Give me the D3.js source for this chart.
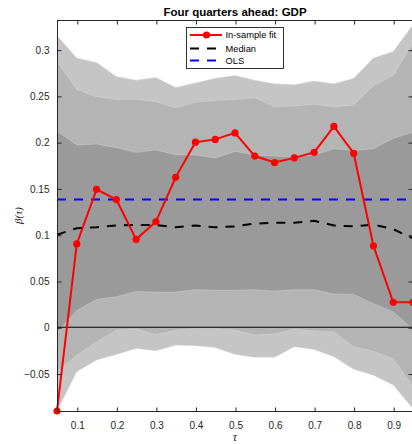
<!DOCTYPE html>
<html>
<head>
<meta charset="utf-8">
<script src="https://cdn.jsdelivr.net/npm/d3@7"></script>
<style>
  body { margin: 0; background: #fff; }
  svg { display: block; font-family: "Liberation Sans", Arial, Helvetica, sans-serif; }
</style>
</head>
<body>
<div id="chart"></div>
<script>
// quantile levels
const taus = [0.05, 0.1, 0.15, 0.2, 0.25, 0.3, 0.35, 0.4, 0.45, 0.5,
              0.55, 0.6, 0.65, 0.7, 0.75, 0.8, 0.85, 0.9, 0.95];

// in-sample fit
const fit = [-0.0905, 0.090, 0.149, 0.138, 0.095, 0.114, 0.162, 0.200, 0.203, 0.210,
             0.185, 0.178, 0.183, 0.189, 0.217, 0.188, 0.088, 0.027, 0.027];

// median of simulated distribution
const median = [0.100, 0.107, 0.108, 0.110, 0.1105, 0.1105, 0.108, 0.110, 0.108, 0.109,
                0.112, 0.113, 0.113, 0.115, 0.110, 0.109, 0.111, 0.106, 0.096];

const ols = 0.138;

// bands: inner, middle, outer (lower / upper)
const innerLo = [-0.005, 0.018, 0.030, 0.033, 0.0385, 0.038, 0.038, 0.0405, 0.040, 0.040,
                 0.0405, 0.039, 0.0405, 0.0405, 0.036, 0.0355, 0.0255, 0.0165, -0.002];
const innerHi = [0.212, 0.197, 0.198, 0.194, 0.189, 0.1915, 0.1865, 0.186, 0.183, 0.190,
                 0.186, 0.185, 0.184, 0.186, 0.193, 0.191, 0.193, 0.204, 0.211];
const midLo = [-0.048, -0.030, -0.016, -0.003, -0.002, -0.008, -0.003, -0.0015, -0.0015, -0.003,
               -0.0085, -0.007, -0.002, -0.004, -0.005, -0.021, -0.026, -0.034, -0.064];
const midHi = [0.287, 0.257, 0.249, 0.246, 0.246, 0.244, 0.237, 0.243, 0.245, 0.246,
               0.248, 0.238, 0.239, 0.241, 0.238, 0.240, 0.261, 0.272, 0.307];
const outLo = [-0.0905, -0.048, -0.0355, -0.0295, -0.023, -0.0255, -0.0195, -0.020, -0.022, -0.0295,
               -0.0325, -0.0325, -0.021, -0.024, -0.032, -0.0455, -0.052, -0.0625, -0.088];
const outHi = [0.315, 0.291, 0.286, 0.271, 0.267, 0.270, 0.259, 0.264, 0.269, 0.272,
               0.267, 0.263, 0.262, 0.266, 0.263, 0.269, 0.291, 0.298, 0.327];

const xTicks = [0.1, 0.2, 0.3, 0.4, 0.5, 0.6, 0.7, 0.8, 0.9];
const yTicks = [-0.05, 0, 0.05, 0.1, 0.15, 0.2, 0.25, 0.3];

const width = 412, height = 444;
const margin = { top: 20, right: -1, bottom: 33, left: 57 };

const svg = d3.select('#chart').append('svg')
  .attr('width', width)
  .attr('height', height);

const x = d3.scaleLinear().domain([0.05, 0.95]).range([margin.left, width - margin.right]);
const y = d3.scaleLinear().domain([-0.0905, 0.332]).range([height - margin.bottom, margin.top]);

svg.append('clipPath').attr('id', 'clip')
  .append('rect')
  .attr('x', x(0.05)).attr('y', y(0.332))
  .attr('width', x(0.95) - x(0.05)).attr('height', y(-0.0905) - y(0.332));

const plot = svg.append('g').attr('clip-path', 'url(#clip)');

// shaded bands, widest first
const bands = [
  { lo: outLo, hi: outHi, fill: '#c5c5c5' },
  { lo: midLo, hi: midHi, fill: '#b4b4b4' },
  { lo: innerLo, hi: innerHi, fill: '#9a9a9a' }
];
const area = d3.area()
  .x((d, i) => x(taus[i]))
  .y0(d => y(d[0]))
  .y1(d => y(d[1]));

bands.forEach(b => {
  plot.append('path')
    .datum(taus.map((t, i) => [b.lo[i], b.hi[i]]))
    .attr('d', area)
    .attr('fill', b.fill)
    .attr('stroke', '#d8d8d8')
    .attr('stroke-width', 0.4);
});

// zero line
plot.append('line')
  .attr('x1', x(0.05)).attr('x2', x(0.95))
  .attr('y1', y(0)).attr('y2', y(0))
  .attr('stroke', '#000').attr('stroke-width', 1);

const line = d3.line().x((d, i) => x(taus[i])).y(d => y(d));

// OLS
plot.append('line')
  .attr('x1', x(0.05)).attr('x2', x(0.95))
  .attr('y1', y(ols)).attr('y2', y(ols))
  .attr('stroke', '#0000ff').attr('stroke-width', 2)
  .attr('stroke-dasharray', '9,8');

// median
plot.append('path')
  .datum(median)
  .attr('d', line)
  .attr('fill', 'none')
  .attr('stroke', '#000').attr('stroke-width', 2)
  .attr('stroke-dasharray', '9,8');

// in-sample fit
svg.append('path')
  .datum(fit)
  .attr('d', line)
  .attr('fill', 'none')
  .attr('stroke', '#ff0000').attr('stroke-width', 2);

svg.selectAll('.dot')
  .data(fit)
  .enter().append('circle')
  .attr('class', 'dot')
  .attr('cx', (d, i) => x(taus[i]))
  .attr('cy', d => y(d))
  .attr('r', 3.6)
  .attr('fill', '#ff0000');

// axes box
const axisColor = '#262626';
const x0 = x(0.05), x1 = x(0.95), y0 = y(-0.0905), y1 = y(0.332);

svg.append('rect')
  .attr('x', x0 + 0.5).attr('y', y1 + 0.5)
  .attr('width', x1 - x0).attr('height', y0 - y1)
  .attr('fill', 'none')
  .attr('stroke', axisColor).attr('stroke-width', 1);

// bottom / top ticks
svg.append('g')
  .attr('transform', `translate(0.5,${y0 + 0.5})`)
  .call(d3.axisBottom(x).tickValues(xTicks).tickSize(-4).tickPadding(10).tickFormat(d3.format('')))
  .call(g => g.select('.domain').remove())
  .call(g => g.selectAll('line').attr('stroke', axisColor))
  .call(g => g.selectAll('text').attr('fill', axisColor).attr('font-size', 10));

svg.append('g')
  .attr('transform', `translate(0.5,${y1 + 0.5})`)
  .call(d3.axisTop(x).tickValues(xTicks).tickSize(-4).tickFormat(''))
  .call(g => g.select('.domain').remove())
  .call(g => g.selectAll('line').attr('stroke', axisColor));

// left / right ticks
svg.append('g')
  .attr('transform', `translate(${x0 + 0.5},0.5)`)
  .call(d3.axisLeft(y).tickValues(yTicks).tickSize(-4).tickPadding(8).tickFormat(d3.format('')))
  .call(g => g.select('.domain').remove())
  .call(g => g.selectAll('line').attr('stroke', axisColor))
  .call(g => g.selectAll('text').attr('fill', axisColor).attr('font-size', 10));

svg.append('g')
  .attr('transform', `translate(${x1 - 0.5},0.5)`)
  .call(d3.axisRight(y).tickValues(yTicks).tickSize(-4).tickFormat(''))
  .call(g => g.select('.domain').remove())
  .call(g => g.selectAll('line').attr('stroke', axisColor));

// title and axis labels
svg.append('text')
  .attr('x', (x0 + x1) / 2).attr('y', 15.5)
  .attr('text-anchor', 'middle')
  .attr('font-size', 11.5).attr('font-weight', 'bold')
  .attr('fill', '#000')
  .text('Four quarters ahead: GDP');

svg.append('text')
  .attr('x', (x0 + x1) / 2).attr('y', 441)
  .attr('text-anchor', 'middle')
  .attr('font-family', '"Liberation Serif", "Times New Roman", serif')
  .attr('font-style', 'italic')
  .attr('font-size', 12)
  .attr('fill', axisColor)
  .text('τ');

svg.append('text')
  .attr('transform', `translate(22,${(y0 + y1) / 2}) rotate(-90)`)
  .attr('text-anchor', 'middle')
  .attr('font-family', '"Liberation Serif", "Times New Roman", serif')
  .attr('font-style', 'italic')
  .attr('font-size', 11)
  .attr('fill', axisColor)
  .text('β(τ)');

// legend
const legend = svg.append('g');
legend.append('rect')
  .attr('x', 186.5).attr('y', 27.5)
  .attr('width', 97).attr('height', 41)
  .attr('fill', '#fff')
  .attr('stroke', '#000').attr('stroke-width', 0.8);

const legendItems = [
  { label: 'In-sample fit', color: '#ff0000', dash: null, dot: true },
  { label: 'Median', color: '#000', dash: '9,8', dot: false },
  { label: 'OLS', color: '#0000ff', dash: '9,8', dot: false }
];
const legendY = [35, 48.5, 60.5];

legendItems.forEach((it, i) => {
  const ly = legendY[i];
  legend.append('line')
    .attr('x1', 190).attr('x2', 222)
    .attr('y1', ly).attr('y2', ly)
    .attr('stroke', it.color).attr('stroke-width', 2)
    .attr('stroke-dasharray', it.dash);
  if (it.dot) {
    legend.append('circle')
      .attr('cx', 206.5).attr('cy', ly).attr('r', 3.6)
      .attr('fill', it.color);
  }
  legend.append('text')
    .attr('x', 225.5).attr('y', ly + 3.3)
    .attr('font-size', 9.3)
    .attr('fill', '#000')
    .text(it.label);
});
</script>
</body>
</html>
